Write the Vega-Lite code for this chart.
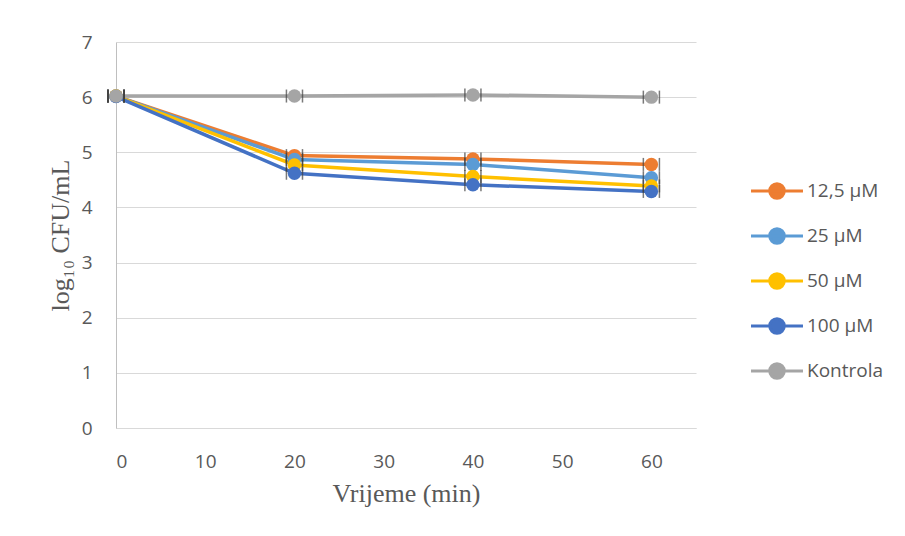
{
  "$schema": "https://vega.github.io/schema/vega-lite/v6.json",
  "autosize": "none",
  "width": 580,
  "height": 386,
  "padding": {"left": 116, "top": 42, "right": 209, "bottom": 108},
  "background": "white",
  "config": {
    "view": {"stroke": null},
    "font": "Open Sans"
  },
  "data": {
    "values": [
      {"series": "12,5 µM", "t": 0, "v": 6.02, "lo": -0.9, "hi": 0.9},
      {"series": "12,5 µM", "t": 20, "v": 4.94, "lo": 19.1, "hi": 20.9},
      {"series": "12,5 µM", "t": 40, "v": 4.88, "lo": 39.1, "hi": 40.9},
      {"series": "12,5 µM", "t": 60, "v": 4.78, "lo": 59.1, "hi": 60.9},
      {"series": "25 µM", "t": 0, "v": 6.02, "lo": -0.9, "hi": 0.9},
      {"series": "25 µM", "t": 20, "v": 4.87, "lo": 19.1, "hi": 20.9},
      {"series": "25 µM", "t": 40, "v": 4.78, "lo": 39.1, "hi": 40.9},
      {"series": "25 µM", "t": 60, "v": 4.54, "lo": 59.1, "hi": 60.9},
      {"series": "50 µM", "t": 0, "v": 6.02, "lo": -0.9, "hi": 0.9},
      {"series": "50 µM", "t": 20, "v": 4.77, "lo": 19.1, "hi": 20.9},
      {"series": "50 µM", "t": 40, "v": 4.56, "lo": 39.1, "hi": 40.9},
      {"series": "50 µM", "t": 60, "v": 4.39, "lo": 59.1, "hi": 60.9},
      {"series": "100 µM", "t": 0, "v": 6.01, "lo": -0.9, "hi": 0.9},
      {"series": "100 µM", "t": 20, "v": 4.62, "lo": 19.1, "hi": 20.9},
      {"series": "100 µM", "t": 40, "v": 4.41, "lo": 39.1, "hi": 40.9},
      {"series": "100 µM", "t": 60, "v": 4.29, "lo": 59.1, "hi": 60.9},
      {"series": "Kontrola", "t": 0, "v": 6.02, "lo": -0.9, "hi": 0.9},
      {"series": "Kontrola", "t": 20, "v": 6.02, "lo": 19.1, "hi": 20.9},
      {"series": "Kontrola", "t": 40, "v": 6.04, "lo": 39.1, "hi": 40.9},
      {"series": "Kontrola", "t": 60, "v": 6.0, "lo": 59.1, "hi": 60.9}
    ]
  },
  "encoding": {
    "y": {
      "field": "v",
      "type": "quantitative",
      "scale": {"domain": [0, 7], "nice": false},
      "axis": {
        "values": [0, 1, 2, 3, 4, 5, 6, 7],
        "title": "log₁₀ CFU/mL",
        "titleFont": "Liberation Serif",
        "titleFontSize": 26,
        "titleFontWeight": "normal",
        "titleColor": "#595959",
        "titlePadding": 8,
        "labelFont": "Open Sans",
        "labelFontSize": 19,
        "labelColor": "#595959",
        "labelPadding": 24,
        "ticks": false,
        "domainColor": "#bfbfbf",
        "domainWidth": 1,
        "gridColor": "#d9d9d9",
        "gridWidth": 1
      }
    }
  },
  "layer": [
    {
      "mark": {"type": "line", "strokeWidth": 3.5},
      "encoding": {
        "x": {
          "field": "t",
          "type": "quantitative",
          "scale": {"domain": [0, 65], "nice": false},
          "axis": {
            "values": [0, 10, 20, 30, 40, 50, 60],
            "title": "Vrijeme (min)",
            "titleFont": "Liberation Serif",
            "titleFontSize": 26,
            "titleFontWeight": "normal",
            "titleColor": "#595959",
            "titlePadding": 9,
            "labelFont": "Open Sans",
            "labelFontSize": 19,
            "labelColor": "#595959",
            "labelPadding": 24,
            "ticks": false,
            "grid": false,
            "domainColor": "#d9d9d9",
            "domainWidth": 1
          }
        },
        "color": {
          "field": "series",
          "type": "nominal",
          "sort": ["12,5 µM", "25 µM", "50 µM", "100 µM", "Kontrola"],
          "scale": {
            "domain": ["12,5 µM", "25 µM", "50 µM", "100 µM", "Kontrola"],
            "range": ["#ED7D31", "#5B9BD5", "#FFC000", "#4472C4", "#A5A5A5"]
          },
          "legend": {
            "title": null,
            "orient": "none",
            "legendX": 642,
            "legendY": 130,
            "padding": 0,
            "symbolType": "M-1.5,0L1.5,0M0.42,0A0.42,0.42,0,1,1,-0.42,0A0.42,0.42,0,1,1,0.42,0Z",
            "symbolSize": 1200,
            "symbolStrokeWidth": 3,
            "rowPadding": 12,
            "labelOffset": 11,
            "labelFont": "Open Sans",
            "labelFontSize": 19,
            "labelColor": "#595959",
            "encode": {
              "symbols": {
                "update": {
                  "fill": {"scale": "color", "field": "value"},
                  "stroke": {"scale": "color", "field": "value"},
                  "strokeWidth": {"value": 3},
                  "opacity": {"value": 1}
                }
              }
            }
          }
        },
        "order": {"field": "t", "type": "quantitative"}
      }
    },
    {
      "mark": {"type": "tick", "orient": "vertical", "size": 13, "thickness": 1.5, "color": "#404040"},
      "encoding": {
        "x": {"field": "lo", "type": "quantitative"}
      }
    },
    {
      "mark": {"type": "tick", "orient": "vertical", "size": 13, "thickness": 1.5, "color": "#404040"},
      "encoding": {
        "x": {"field": "hi", "type": "quantitative"}
      }
    },
    {
      "mark": {"type": "point", "filled": true, "size": 180, "opacity": 1, "shape": "circle"},
      "encoding": {
        "x": {"field": "t", "type": "quantitative"},
        "color": {"field": "series", "type": "nominal", "legend": null}
      }
    }
  ]
}
